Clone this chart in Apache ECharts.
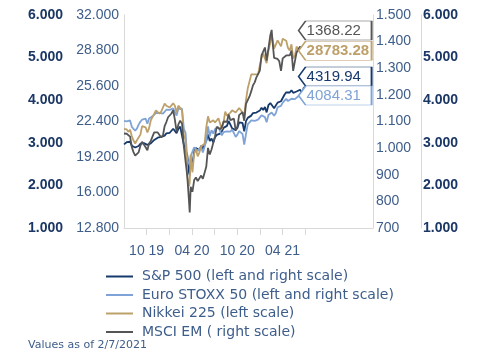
<!DOCTYPE html>
<html>
<head>
<meta charset="utf-8">
<script src="https://cdn.jsdelivr.net/npm/echarts@6/dist/echarts.min.js"></script>
<style>
html,body{margin:0;padding:0;background:#fff;}
#c{width:487px;height:354px;}
</style>
</head>
<body>
<div id="c"></div>
<script>
// ---- data ----
var dates = [
'2019-07-01','2019-07-05','2019-07-12','2019-07-19','2019-07-26','2019-08-02','2019-08-09','2019-08-16','2019-08-23','2019-08-30',
'2019-09-06','2019-09-13','2019-09-20','2019-09-27','2019-10-04','2019-10-11','2019-10-18','2019-10-25','2019-11-01','2019-11-08',
'2019-11-15','2019-11-22','2019-11-29','2019-12-06','2019-12-13','2019-12-20','2019-12-27',
'2020-01-03','2020-01-10','2020-01-17','2020-01-24','2020-01-31','2020-02-07','2020-02-14','2020-02-21','2020-02-28',
'2020-03-06','2020-03-13','2020-03-20','2020-03-23','2020-03-27','2020-04-03','2020-04-10','2020-04-17','2020-04-24',
'2020-05-01','2020-05-08','2020-05-15','2020-05-22','2020-05-29','2020-06-05','2020-06-12','2020-06-19','2020-06-26',
'2020-07-03','2020-07-10','2020-07-17','2020-07-24','2020-07-31','2020-08-07','2020-08-14','2020-08-21','2020-08-28',
'2020-09-04','2020-09-11','2020-09-18','2020-09-25','2020-10-02','2020-10-09','2020-10-16','2020-10-23','2020-10-30',
'2020-11-06','2020-11-13','2020-11-20','2020-11-27','2020-12-04','2020-12-11','2020-12-18','2020-12-25',
'2021-01-01','2021-01-08','2021-01-15','2021-01-22','2021-01-29','2021-02-05','2021-02-12','2021-02-17','2021-02-19','2021-02-26',
'2021-03-05','2021-03-12','2021-03-19','2021-03-26','2021-04-02','2021-04-09','2021-04-16','2021-04-23','2021-04-30',
'2021-05-07','2021-05-14','2021-05-21','2021-05-28','2021-06-04','2021-06-11','2021-06-18','2021-06-25','2021-07-01'
];
var sp500 = [
2964,2990,3014,2976,3025,2932,2918,2889,2847,2926,2978,3007,2992,2961,2952,2970,2986,3022,3066,3093,3120,3110,3141,3146,3169,3221,3240,
3235,3265,3330,3295,3226,3328,3380,3338,2954,
2972,2711,2305,2237,2541,2489,2790,2875,2837,
2831,2930,2864,2955,3044,3194,3041,3098,3009,
3130,3185,3225,3216,3271,3351,3373,3397,3508,
3427,3341,3319,3298,3348,3477,3483,3465,3270,
3509,3585,3558,3638,3699,3663,3709,3703,
3756,3825,3768,3841,3714,3887,3934,3932,3907,3811,
3842,3943,3913,3975,4020,4129,4185,4180,4181,
4233,4174,4156,4204,4230,4247,4166,4281,4319.94
];
var stoxx50 = [
3514,3528,3502,3480,3525,3375,3333,3282,3335,3426,3495,3545,3571,3568,3448,3570,3579,3620,3624,3699,3712,3703,3704,3687,3731,3776,3782,
3773,3780,3808,3779,3640,3799,3840,3800,3329,
3232,2586,2549,2486,2687,2662,2892,2888,2810,
2812,2904,2770,2905,3050,3384,3153,3297,3216,
3321,3296,3366,3339,3174,3252,3290,3266,3277,
3260,3315,3338,3137,3191,3273,3245,3207,2958,
3207,3432,3467,3527,3546,3516,3545,3543,
3553,3645,3600,3602,3481,3655,3697,3710,3701,3636,
3700,3834,3837,3867,3945,3978,4032,3979,3975,
4034,4017,4026,4071,4094,4127,4083,4119,4084.31
];
var nikkei225 = [
21730,21746,21686,21467,21658,21087,20685,20419,20711,20704,21200,21988,22079,21879,21410,21799,22493,22800,22851,23392,23303,23113,23294,23354,24023,23817,23837,
23657,23850,24041,23827,23205,23828,23688,23387,21143,
20750,17431,16553,16887,19389,17820,19498,19897,19262,
19619,20179,20037,20388,21878,22863,22305,22478,22512,
22306,22291,22696,22751,21710,22329,23289,22920,22883,
23205,23406,23360,23205,23030,23620,23411,23516,22977,
24325,25385,25527,26644,26751,26652,26763,26656,
27444,28139,28519,28631,27663,28779,29520,30292,30018,28966,
28864,29717,29792,29176,29854,29768,29683,29020,28813,
29358,28084,28317,29149,28941,28948,28964,29066,28783.28
];
var msciEM = [
1055,1060,1054,1055,1043,1004,985,972,978,984,1008,1024,1019,1003,992,1017,1027,1043,1059,1064,1059,1052,1040,1048,1083,1098,1116,
1118,1130,1143,1107,1062,1089,1103,1092,1006,
1007,895,802,758,855,836,880,890,876,
882,897,885,885,930,1001,976,995,994,
1045,1080,1082,1071,1079,1100,1104,1099,1126,
1105,1102,1111,1068,1082,1124,1120,1135,1103,
1166,1180,1194,1214,1236,1247,1266,1267,
1291,1348,1355,1378,1329,1375,1424,1444,1412,1339,
1338,1335,1326,1290,1337,1333,1348,1345,1348,
1366,1290,1326,1359,1370,1382,1359,1379,1368.22
];
var seriesNames = ['S&P 500 (left and right scale)','Euro STOXX 50 (left and right scale)','Nikkei 225 (left scale)','MSCI EM ( right scale)'];
var xTickLabels = ['10 19','04 20','10 20','04 21'];
var footnote = 'Values as of 2/7/2021';

// ---- helpers ----
function monthIndex(d){
  var p = d.split('-'); var y=+p[0], m=+p[1], day=+p[2];
  var dim = new Date(y, m, 0).getDate();
  return (y-2019)*12 + (m-7) + (day-1)/dim;
}
function pairs(vals){ return vals.map(function(v,i){ return [monthIndex(dates[i]), v]; }); }
function fmtThousands(v){
  v = Math.round(v);
  if (v >= 1000){ var r = v % 1000; return Math.floor(v/1000) + '.' + ('00'+r).slice(-3); }
  return String(v);
}
var colors = ['#173a6c','#7fa3d6','#bda06a','#555555'];
var labelCol = '#3d5d8a', boldCol = '#1b3766', axisCol = '#d9d9d9';
var F = 'Liberation Sans, Arial, sans-serif';

function yAx(pos, offset, min, max, interval, bold, margin){
  return {
    type:'value', position:pos, offset:offset, min:min, max:max, interval:interval,
    axisLine:{show:true, lineStyle:{color:axisCol, width:1}},
    axisTick:{show:false}, splitLine:{show:false},
    axisLabel:{margin:margin, color: bold?boldCol:labelCol, fontFamily:F, fontSize:14,
      fontWeight: bold?'bold':'normal', formatter: fmtThousands}
  };
}
var tagPath = 'path://M0,9.5L7,0L73,0L73,19L7,19Z';
function tag(vals, color, dy, bold){
  var last = vals[vals.length-1];
  return {
    symbol: tagPath, symbolSize:[73,19], symbolKeepAspect:false, silent:true,
    itemStyle:{color:'#fff', borderColor:color, borderWidth:1},
    label:{show:true, position:[9,'50%'], align:'left', verticalAlign:'middle',
      color:color, fontFamily:F, fontSize:15, fontWeight: bold?'bold':'normal',
      formatter: function(){ return last.toFixed(2); }},
    data:[{coord:[monthIndex(dates[dates.length-1]), last], symbolOffset:[30, dy]}]
  };
}

var chart = echarts.init(document.getElementById('c'), null, {renderer:'canvas'});
var tickVals = [3,6,9,12,15,18,21,24];
var labVals = [3,9,15,21];
chart.setOption({
  animation:false,
  title:{text:footnote, left:28, top:340, padding:0,
    textStyle:{fontSize:11, fontWeight:'normal', color:labelCol, fontFamily:'DejaVu Sans, sans-serif'}},
  legend:{
    orient:'vertical', left:101, top:263.5, itemWidth:27, itemHeight:2, itemGap:2.5, icon:'rect',
    textStyle:{color:labelCol, fontFamily:'DejaVu Sans, sans-serif', fontSize:14, lineHeight:16, padding:[0,0,0,4]},
    data: seriesNames
  },
  grid:{left:124, right:114, top:15, bottom:126, containLabel:false},
  xAxis:{
    type:'value', min:0, max:33,
    axisLine:{show:true, onZero:false, lineStyle:{color:axisCol}},
    axisTick:{show:true, length:7, lineStyle:{color:axisCol}, customValues:tickVals},
    splitLine:{show:false},
    axisLabel:{customValues:labVals, margin:16, color:labelCol, fontFamily:F, fontSize:14,
      formatter:function(v){
        var idx = labVals.indexOf(Math.round(v));
        return idx>=0 ? xTickLabels[idx] : '';
      }}
  },
  yAxis:[
    yAx('left', 56, 1000, 6000, 1000, true, 5),
    yAx('left', 0, 12800, 32000, 3200, false, 5),
    yAx('right', 0, 700, 1500, 100, false, 3),
    yAx('right', 48, 1000, 6000, 1000, true, 2)
  ],
  series:[
    {name:seriesNames[0], type:'line', yAxisIndex:0, data:pairs(sp500), showSymbol:false, color:colors[0],
      lineStyle:{width:1.8}, markPoint:tag(sp500, colors[0], -10, false)},
    {name:seriesNames[1], type:'line', yAxisIndex:0, data:pairs(stoxx50), showSymbol:false, color:colors[1],
      lineStyle:{width:1.8}, markPoint:tag(stoxx50, colors[1], -1, false)},
    {name:seriesNames[2], type:'line', yAxisIndex:1, data:pairs(nikkei225), showSymbol:false, color:colors[2],
      lineStyle:{width:1.8}, markPoint:tag(nikkei225, colors[2], 0, true)},
    {name:seriesNames[3], type:'line', yAxisIndex:2, data:pairs(msciEM), showSymbol:false, color:colors[3],
      lineStyle:{width:1.8}, markPoint:tag(msciEM, colors[3], -19.6, false)}
  ]
});
</script>
</body>
</html>
